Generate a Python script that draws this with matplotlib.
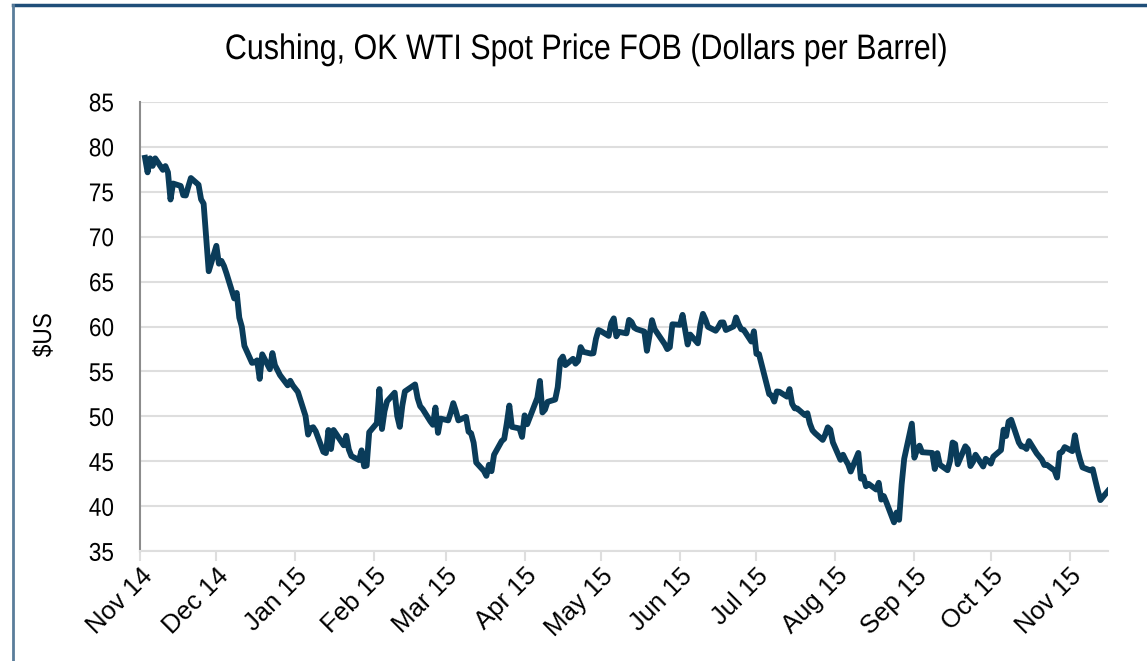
import matplotlib.pyplot as plt
import matplotlib.dates as mdates
from matplotlib.lines import Line2D
from matplotlib.patheffects import AbstractPathEffect
from matplotlib.transforms import Affine2D
import pandas as pd

# WTI spot price, trading days
dates = [
    "2014-11-03", "2014-11-04", "2014-11-05", "2014-11-06", "2014-11-07", "2014-11-10", "2014-11-11",
    "2014-11-12", "2014-11-13", "2014-11-14", "2014-11-17", "2014-11-18", "2014-11-19", "2014-11-20",
    "2014-11-21", "2014-11-24", "2014-11-25", "2014-11-26", "2014-11-28",
    "2014-12-01", "2014-12-02", "2014-12-03", "2014-12-04", "2014-12-05", "2014-12-08", "2014-12-09",
    "2014-12-10", "2014-12-11", "2014-12-12", "2014-12-15", "2014-12-16", "2014-12-17", "2014-12-18",
    "2014-12-19", "2014-12-22", "2014-12-23", "2014-12-24", "2014-12-26", "2014-12-29", "2014-12-30",
    "2014-12-31",
    "2015-01-02", "2015-01-05", "2015-01-06", "2015-01-07", "2015-01-08", "2015-01-09", "2015-01-12",
    "2015-01-13", "2015-01-14", "2015-01-15", "2015-01-16", "2015-01-20", "2015-01-21", "2015-01-22",
    "2015-01-23", "2015-01-26", "2015-01-27", "2015-01-28", "2015-01-29", "2015-01-30",
    "2015-02-02", "2015-02-03", "2015-02-04", "2015-02-05", "2015-02-06", "2015-02-09", "2015-02-10",
    "2015-02-11", "2015-02-12", "2015-02-13", "2015-02-17", "2015-02-18", "2015-02-19", "2015-02-20",
    "2015-02-23", "2015-02-24", "2015-02-25", "2015-02-26", "2015-02-27",
    "2015-03-02", "2015-03-03", "2015-03-04", "2015-03-05", "2015-03-06", "2015-03-09", "2015-03-10",
    "2015-03-11", "2015-03-12", "2015-03-13", "2015-03-16", "2015-03-17", "2015-03-18", "2015-03-19",
    "2015-03-20", "2015-03-23", "2015-03-24", "2015-03-25", "2015-03-26", "2015-03-27", "2015-03-30",
    "2015-03-31",
    "2015-04-01", "2015-04-02", "2015-04-06", "2015-04-07", "2015-04-08", "2015-04-09", "2015-04-10",
    "2015-04-13", "2015-04-14", "2015-04-15", "2015-04-16", "2015-04-17", "2015-04-20", "2015-04-21",
    "2015-04-22", "2015-04-23", "2015-04-24", "2015-04-27", "2015-04-28", "2015-04-29", "2015-04-30",
    "2015-05-01", "2015-05-04", "2015-05-05", "2015-05-06", "2015-05-07", "2015-05-08", "2015-05-11",
    "2015-05-12", "2015-05-13", "2015-05-14", "2015-05-15", "2015-05-18", "2015-05-19", "2015-05-20",
    "2015-05-21", "2015-05-22", "2015-05-26", "2015-05-27", "2015-05-28", "2015-05-29",
    "2015-06-01", "2015-06-02", "2015-06-03", "2015-06-04", "2015-06-05", "2015-06-08", "2015-06-09",
    "2015-06-10", "2015-06-11", "2015-06-12", "2015-06-15", "2015-06-16", "2015-06-17", "2015-06-18",
    "2015-06-19", "2015-06-22", "2015-06-23", "2015-06-24", "2015-06-25", "2015-06-26", "2015-06-29",
    "2015-06-30",
    "2015-07-01", "2015-07-02", "2015-07-06", "2015-07-07", "2015-07-08", "2015-07-09", "2015-07-10",
    "2015-07-13", "2015-07-14", "2015-07-15", "2015-07-16", "2015-07-17", "2015-07-20", "2015-07-21",
    "2015-07-22", "2015-07-23", "2015-07-24", "2015-07-27", "2015-07-28", "2015-07-29", "2015-07-30",
    "2015-07-31",
    "2015-08-03", "2015-08-04", "2015-08-05", "2015-08-06", "2015-08-07", "2015-08-10", "2015-08-11",
    "2015-08-12", "2015-08-13", "2015-08-14", "2015-08-17", "2015-08-18", "2015-08-19", "2015-08-20",
    "2015-08-21", "2015-08-24", "2015-08-25", "2015-08-26", "2015-08-27", "2015-08-28", "2015-08-31",
    "2015-09-01", "2015-09-02", "2015-09-03", "2015-09-04", "2015-09-08", "2015-09-09", "2015-09-10",
    "2015-09-11", "2015-09-14", "2015-09-15", "2015-09-16", "2015-09-17", "2015-09-18", "2015-09-21",
    "2015-09-22", "2015-09-23", "2015-09-24", "2015-09-25", "2015-09-28", "2015-09-29", "2015-09-30",
    "2015-10-01", "2015-10-02", "2015-10-05", "2015-10-06", "2015-10-07", "2015-10-08", "2015-10-09",
    "2015-10-12", "2015-10-13", "2015-10-14", "2015-10-15", "2015-10-16", "2015-10-19", "2015-10-20",
    "2015-10-21", "2015-10-22", "2015-10-23", "2015-10-26", "2015-10-27", "2015-10-28", "2015-10-29",
    "2015-10-30",
    "2015-11-02", "2015-11-03", "2015-11-04", "2015-11-05", "2015-11-06", "2015-11-09", "2015-11-10",
    "2015-11-11", "2015-11-12", "2015-11-13", "2015-11-16",
]
prices = [
    78.77, 77.15, 78.71, 77.87, 78.71, 77.43, 77.85, 77.16, 74.13, 75.91, 75.64, 74.61, 74.58, 75.58,
    76.52, 75.77, 74.15, 73.67, 66.15,
    68.98, 66.99, 67.30, 66.73, 65.89, 63.13, 63.74, 60.99, 59.97, 57.85, 55.96, 56.01, 56.24, 54.18,
    56.91, 55.25, 57.05, 55.70, 54.59, 53.46, 53.97, 53.45,
    52.72, 50.05, 47.98, 48.69, 48.80, 48.35, 46.06, 45.92, 48.49, 46.37, 48.49, 46.79, 47.85, 46.31,
    45.59, 45.15, 46.23, 44.45, 44.53, 48.24,
    49.25, 53.04, 48.60, 50.58, 51.69, 52.64, 50.04, 48.84, 51.21, 52.78, 53.56, 52.03, 51.14, 50.81,
    49.45, 49.07, 50.99, 48.17, 49.76,
    49.56, 50.43, 51.48, 50.61, 49.56, 49.95, 48.30, 48.12, 47.07, 44.87, 43.94, 43.39, 44.62, 43.91,
    45.73, 47.26, 47.51, 49.22, 51.21, 48.84, 48.66, 47.72,
    50.12, 49.13, 52.07, 53.95, 50.44, 50.76, 51.62, 51.88, 53.26, 56.26, 56.66, 55.71, 56.41, 55.87,
    56.17, 57.71, 57.19, 56.99, 57.03, 58.63, 59.61,
    59.48, 58.96, 60.39, 60.91, 58.91, 59.41, 59.24, 60.74, 60.50, 59.88, 59.71, 59.44, 57.30, 58.96,
    60.71, 59.72, 58.04, 57.49, 57.70, 60.25,
    60.19, 61.30, 59.66, 58.00, 59.11, 58.13, 60.18, 61.41, 60.77, 59.96, 59.53, 59.92, 60.45, 60.46,
    59.61, 60.01, 61.01, 60.27, 59.70, 59.63, 58.33, 59.47,
    56.96, 56.93, 52.48, 52.33, 51.65, 52.78, 52.74, 52.20, 53.04, 51.41, 50.90, 50.89, 50.15, 50.36,
    49.19, 48.45, 48.14, 47.39, 47.98, 48.79, 48.52, 47.12,
    45.17, 45.74, 45.15, 44.66, 43.87, 45.94, 43.08, 43.30, 42.23, 42.50, 41.87, 42.62, 40.75, 41.14,
    40.45, 38.22, 39.31, 38.50, 42.45, 45.29, 49.20,
    45.41, 46.25, 46.75, 46.02, 45.94, 44.15, 45.92, 44.63, 44.02, 45.06, 47.10, 46.93, 44.68, 46.68,
    46.35, 44.48, 44.94, 45.74, 44.43, 45.29, 45.06,
    44.75, 45.53, 46.26, 48.53, 47.82, 49.43, 49.63, 47.10, 46.66, 46.64, 46.38, 47.26, 45.89, 45.55,
    45.20, 44.60, 44.62, 43.98, 43.20, 45.94, 46.06, 46.59,
    46.14, 47.90, 46.30, 45.21, 44.33, 44.00, 44.13, 42.91, 41.75, 40.69, 41.72,
]
month_ticks = pd.date_range("2014-11-01", "2015-11-01", freq="MS")

df = pd.DataFrame({"date": pd.to_datetime(dates), "price": prices})


class Narrow(AbstractPathEffect):
    # squeeze text sideways to mimic a narrow font
    def __init__(self, sx=0.86, anchor="center"):
        super().__init__()
        self.sx = sx
        self.anchor = anchor

    def draw_path(self, renderer, gc, tpath, affine, rgbFace=None):
        xs = tpath.vertices[:, 0]
        if len(xs) == 0:
            return
        if self.anchor == "right":
            x0 = xs.max()
        elif self.anchor == "left":
            x0 = xs.min()
        else:
            x0 = (xs.min() + xs.max()) / 2
        t = Affine2D().translate(-x0, 0).scale(self.sx, 1).translate(x0, 0) + affine
        renderer.draw_path(gc, tpath, t, rgbFace)


plt.rcParams['font.family'] = ['Liberation Sans', 'DejaVu Sans']

fig = plt.figure(figsize=(11.47, 6.61), dpi=100)
ax = fig.add_axes([0.122, 0.166, 0.844, 0.680])

ax.plot(df["date"], df["price"], color="#0a3c5a", lw=4.2, solid_joinstyle="round")

ax.set_ylim(35, 85)
ax.set_yticks(range(35, 90, 5))
ax.set_xlim(pd.Timestamp("2014-11-01"), df["date"].iloc[-1])
ax.set_xticks(month_ticks)
ax.xaxis.set_major_formatter(mdates.DateFormatter("%b %y"))
ax.grid(axis="y", color="#dedede", lw=1.5)
ax.set_axisbelow(True)

for s in ["top", "right"]:
    ax.spines[s].set_visible(False)
ax.spines["left"].set_color("#8c8c8c")
ax.spines["left"].set_linewidth(1.5)
ax.spines["bottom"].set_color("#dedede")
ax.spines["bottom"].set_linewidth(1.5)
ax.tick_params(axis="y", length=0, labelsize=18.5, pad=18.5)
ax.tick_params(axis="x", length=7, width=1.5, color="#dedede", pad=2, labelsize=18.5)
for lab in ax.get_yticklabels():
    lab.set_path_effects([Narrow(0.88, "right")])
for lab in ax.get_xticklabels():
    lab.set_rotation(45)
    lab.set_ha("right")
    lab.set_rotation_mode("anchor")

fig.text(44 / 1147, 0.493, "$US", fontsize=18.5, rotation=90, ha="center", va="center",
         path_effects=[Narrow(0.88)])
fig.text(586 / 1147, 1 - 59 / 661, "Cushing, OK WTI Spot Price FOB (Dollars per Barrel)",
         fontsize=25.5, ha="center", va="baseline", path_effects=[Narrow(0.86)])

# slide border around the chart
fig.add_artist(Line2D([0.011, 1.0], [0.992, 0.992], color="#1f4e79", lw=2.5))
fig.add_artist(Line2D([0.0115, 0.0115], [0.0, 0.992], color="#5a7d9a", lw=2))

fig.savefig("out.png", dpi=100)
